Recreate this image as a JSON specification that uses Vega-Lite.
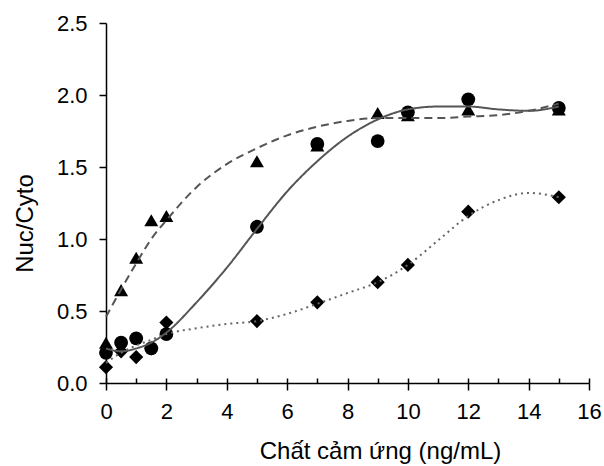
{
  "$schema": "https://vega.github.io/schema/vega-lite/v6.json",
  "width": 483,
  "height": 360,
  "autosize": "none",
  "padding": {"left": 106, "top": 23, "right": 15, "bottom": 83},
  "background": "white",
  "config": {"view": {"stroke": null}, "font": "Liberation Sans"},
  "datasets": {
    "pts": [
      {"series": "diamond", "x": 0, "y": 0.11},
      {"series": "diamond", "x": 0.5, "y": 0.22},
      {"series": "diamond", "x": 1, "y": 0.18},
      {"series": "diamond", "x": 1.5, "y": 0.24},
      {"series": "diamond", "x": 2, "y": 0.42},
      {"series": "diamond", "x": 5, "y": 0.43},
      {"series": "diamond", "x": 7, "y": 0.56},
      {"series": "diamond", "x": 9, "y": 0.70},
      {"series": "diamond", "x": 10, "y": 0.82},
      {"series": "diamond", "x": 12, "y": 1.19},
      {"series": "diamond", "x": 15, "y": 1.29},
      {"series": "triangle", "x": 0, "y": 0.28},
      {"series": "triangle", "x": 0.5, "y": 0.645},
      {"series": "triangle", "x": 1, "y": 0.87},
      {"series": "triangle", "x": 1.5, "y": 1.13},
      {"series": "triangle", "x": 2, "y": 1.16},
      {"series": "triangle", "x": 5, "y": 1.54},
      {"series": "triangle", "x": 7, "y": 1.65},
      {"series": "triangle", "x": 9, "y": 1.875},
      {"series": "triangle", "x": 10, "y": 1.86},
      {"series": "triangle", "x": 12, "y": 1.90},
      {"series": "triangle", "x": 15, "y": 1.90},
      {"series": "circle", "x": 0, "y": 0.21},
      {"series": "circle", "x": 0.5, "y": 0.28},
      {"series": "circle", "x": 1, "y": 0.31},
      {"series": "circle", "x": 1.5, "y": 0.24},
      {"series": "circle", "x": 2, "y": 0.34},
      {"series": "circle", "x": 5, "y": 1.085},
      {"series": "circle", "x": 7, "y": 1.66},
      {"series": "circle", "x": 9, "y": 1.68},
      {"series": "circle", "x": 10, "y": 1.88},
      {"series": "circle", "x": 12, "y": 1.97},
      {"series": "circle", "x": 15, "y": 1.91}
    ],
    "fit": [
      {"series": "circle", "x": 0, "y": 0.24},
      {"series": "circle", "x": 0.5, "y": 0.22},
      {"series": "circle", "x": 1, "y": 0.24},
      {"series": "circle", "x": 1.5, "y": 0.28},
      {"series": "circle", "x": 2, "y": 0.35},
      {"series": "circle", "x": 3, "y": 0.56},
      {"series": "circle", "x": 4, "y": 0.80},
      {"series": "circle", "x": 5, "y": 1.07},
      {"series": "circle", "x": 6, "y": 1.33},
      {"series": "circle", "x": 7, "y": 1.54},
      {"series": "circle", "x": 8, "y": 1.71},
      {"series": "circle", "x": 9, "y": 1.83},
      {"series": "circle", "x": 10, "y": 1.90},
      {"series": "circle", "x": 11, "y": 1.92},
      {"series": "circle", "x": 12, "y": 1.92},
      {"series": "circle", "x": 13, "y": 1.90},
      {"series": "circle", "x": 14, "y": 1.89},
      {"series": "circle", "x": 15, "y": 1.92},
      {"series": "triangle", "x": 0, "y": 0.46},
      {"series": "triangle", "x": 0.5, "y": 0.65},
      {"series": "triangle", "x": 1, "y": 0.83},
      {"series": "triangle", "x": 1.5, "y": 1.00},
      {"series": "triangle", "x": 2, "y": 1.13},
      {"series": "triangle", "x": 3, "y": 1.36},
      {"series": "triangle", "x": 4, "y": 1.52},
      {"series": "triangle", "x": 5, "y": 1.63},
      {"series": "triangle", "x": 6, "y": 1.72},
      {"series": "triangle", "x": 7, "y": 1.78},
      {"series": "triangle", "x": 8, "y": 1.82},
      {"series": "triangle", "x": 9, "y": 1.84},
      {"series": "triangle", "x": 10, "y": 1.84},
      {"series": "triangle", "x": 11, "y": 1.84},
      {"series": "triangle", "x": 12, "y": 1.85},
      {"series": "triangle", "x": 13, "y": 1.86},
      {"series": "triangle", "x": 14, "y": 1.89},
      {"series": "triangle", "x": 15, "y": 1.94},
      {"series": "diamond", "x": 0, "y": 0.14},
      {"series": "diamond", "x": 0.5, "y": 0.21},
      {"series": "diamond", "x": 1, "y": 0.26},
      {"series": "diamond", "x": 1.5, "y": 0.30},
      {"series": "diamond", "x": 2, "y": 0.34},
      {"series": "diamond", "x": 3, "y": 0.38},
      {"series": "diamond", "x": 4, "y": 0.41},
      {"series": "diamond", "x": 5, "y": 0.43},
      {"series": "diamond", "x": 6, "y": 0.48},
      {"series": "diamond", "x": 7, "y": 0.55},
      {"series": "diamond", "x": 8, "y": 0.625},
      {"series": "diamond", "x": 9, "y": 0.70},
      {"series": "diamond", "x": 10, "y": 0.82},
      {"series": "diamond", "x": 11, "y": 0.99},
      {"series": "diamond", "x": 12, "y": 1.16},
      {"series": "diamond", "x": 13, "y": 1.27},
      {"series": "diamond", "x": 14, "y": 1.32},
      {"series": "diamond", "x": 15, "y": 1.29}
    ]
  },
  "layer": [
    {
      "data": {"name": "pts"},
      "mark": {"type": "point", "filled": true, "opacity": 1, "color": "black", "strokeWidth": 0},
      "encoding": {
        "x": {
          "field": "x", "type": "quantitative",
          "scale": {"domain": [0, 16], "nice": false, "zero": false},
          "axis": {
            "orient": "bottom",
            "values": [0, 2, 4, 6, 8, 10, 12, 14, 16],
            "grid": false,
            "domainColor": "black", "domainWidth": 1.5,
            "tickColor": "black", "tickWidth": 1.5, "tickSize": 7,
            "labelFont": "Liberation Sans", "labelFontSize": 22, "labelColor": "black", "labelPadding": 11,
            "labelFlush": false,
            "title": "Chất cảm ứng (ng/mL)",
            "titleFont": "Liberation Sans", "titleFontSize": 24, "titleFontWeight": "normal", "titleColor": "black",
            "titleX": 274, "titleY": 75, "titleAlign": "center", "titleBaseline": "alphabetic"
          }
        },
        "y": {
          "field": "y", "type": "quantitative",
          "scale": {"domain": [0, 2.5], "nice": false},
          "axis": {
            "values": [0, 0.5, 1, 1.5, 2, 2.5],
            "format": ".1f",
            "grid": false,
            "domainColor": "black", "domainWidth": 1.5,
            "tickColor": "black", "tickWidth": 1.5, "tickSize": 7,
            "labelFont": "Liberation Sans", "labelFontSize": 22, "labelColor": "black", "labelPadding": 12,
            "labelFlush": false,
            "title": "Nuc/Cyto",
            "titleFont": "Liberation Sans", "titleFontSize": 24, "titleFontWeight": "normal", "titleColor": "black",
            "titleAngle": 270, "titleX": -74, "titleY": 200, "titleAlign": "center", "titleBaseline": "alphabetic"
          }
        },
        "shape": {
          "field": "series", "type": "nominal",
          "scale": {"domain": ["circle", "triangle", "diamond"], "range": ["circle", "triangle-up", "diamond"]},
          "legend": null
        },
        "size": {
          "field": "series", "type": "nominal",
          "scale": {"domain": ["circle", "triangle", "diamond"], "range": [190, 200, 250]},
          "legend": null
        }
      }
    },
    {
      "data": {"name": "fit"},
      "mark": {"type": "line", "interpolate": "monotone", "strokeWidth": 2},
      "encoding": {
        "x": {
          "field": "x", "type": "quantitative",
          "scale": {"domain": [0, 16], "nice": false, "zero": false},
          "axis": {
            "orient": "bottom",
            "values": [0, 1, 2, 3, 4, 5, 6, 7, 8, 9, 10, 11, 12, 13, 14, 15, 16],
            "grid": false, "domain": false, "labels": false, "title": null,
            "tickColor": "black", "tickWidth": 1.5, "tickSize": -5
          }
        },
        "y": {
          "field": "y", "type": "quantitative",
          "scale": {"domain": [0, 2.5], "nice": false},
          "axis": null
        },
        "color": {
          "field": "series", "type": "nominal",
          "scale": {"domain": ["circle", "triangle", "diamond"], "range": ["#555555", "#555555", "#666666"]},
          "legend": null
        },
        "strokeDash": {
          "field": "series", "type": "nominal",
          "scale": {"domain": ["circle", "triangle", "diamond"], "range": [[1, 0], [8, 5], [2, 4]]},
          "legend": null
        }
      }
    }
  ],
  "resolve": {"axis": {"x": "independent", "y": "independent"}}
}
